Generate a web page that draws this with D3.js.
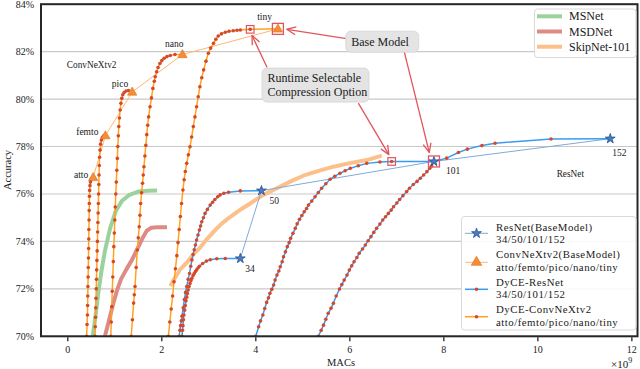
<!DOCTYPE html>
<html><head><meta charset="utf-8">
<script src="https://cdn.jsdelivr.net/npm/d3@7"></script>
<style>
body{margin:0;background:#fff}
svg{display:block}
text{font-family:"Liberation Serif","Times New Roman",serif;fill:#1a1a1a}
</style>
</head><body><svg id="c" width="640" height="369"></svg>
<script>
// ---------------- data ----------------
const xTicks = [0, 2, 4, 6, 8, 10, 12];
const yTicks = [70, 72, 74, 76, 78, 80, 82, 84];

const msnet = [[0.53,70.0],[0.6,71.0],[0.65,71.85],[0.72,72.8],[0.79,73.6],[0.9,74.55],[1.02,75.28],[1.15,75.7],[1.3,75.95],[1.5,76.1],[1.7,76.14],[1.9,76.15]];
const msdnet = [[0.79,70.0],[0.88,70.7],[0.97,71.4],[1.05,71.95],[1.13,72.4],[1.24,72.8],[1.36,73.2],[1.47,73.64],[1.58,74.1],[1.68,74.45],[1.78,74.58],[1.9,74.6],[2.11,74.6]];
const skipnet = [[2.18,72.12],[2.25,72.37],[2.31,72.55],[2.39,72.82],[2.53,73.1],[2.67,73.45],[2.82,73.75],[2.96,74.1],[3.1,74.4],[3.24,74.69],[3.4,74.95],[3.56,75.18],[3.72,75.4],[3.88,75.6],[4.16,75.96],[4.45,76.24],[4.73,76.52],[5.01,76.77],[5.3,76.95],[5.65,77.15],[6.0,77.3],[6.36,77.43],[6.68,77.62]];

const resnetNames = ["34", "50", "101", "152"];
const resnetBase = [[3.67,73.28],[4.12,76.14],[7.79,77.37],[11.54,78.33]];

const convNames = ["atto", "femto", "pico", "nano", "tiny"];
const convBase = [[0.54,76.7],[0.80,78.46],[1.37,80.3],[2.44,81.88],[4.47,82.96]];

const dyceResNet34 = [[2.43,70.0],[2.44,70.25],[2.45,70.45],[2.46,70.7],[2.47,70.9],[2.485,71.1],[2.5,71.3],[2.515,71.5],[2.53,71.65],[2.545,71.8],[2.56,71.95],[2.58,72.1],[2.6,72.23],[2.62,72.35],[2.64,72.45],[2.665,72.56],[2.69,72.65],[2.715,72.73],[2.74,72.8],[2.77,72.88],[2.8,72.95],[2.87,73.07],[2.95,73.17],[3.03,73.23],[3.17,73.27],[3.35,73.28],[3.67,73.28]];
const dyceResNet50 = [[2.37,70.0],[2.385,70.25],[2.40,70.45],[2.415,70.65],[2.43,70.85],[2.455,71.2],[2.48,71.55],[2.505,71.85],[2.53,72.1],[2.56,72.4],[2.59,72.65],[2.615,72.95],[2.64,73.22],[2.665,73.45],[2.69,73.65],[2.715,73.85],[2.74,74.06],[2.77,74.27],[2.8,74.48],[2.825,74.65],[2.85,74.83],[2.885,75.0],[2.92,75.18],[2.97,75.35],[3.03,75.53],[3.08,75.65],[3.13,75.77],[3.19,75.88],[3.24,75.96],[3.32,76.03],[3.42,76.07],[3.67,76.13],[4.12,76.14]];
const dyceResNet101 = [[4.0,70.0],[4.06,70.4],[4.1,70.65],[4.15,70.9],[4.19,71.17],[4.23,71.43],[4.27,71.62],[4.3,71.81],[4.34,71.98],[4.38,72.16],[4.41,72.37],[4.45,72.58],[4.49,72.75],[4.52,72.93],[4.56,73.14],[4.59,73.35],[4.63,73.56],[4.67,73.78],[4.71,73.95],[4.74,74.13],[4.79,74.34],[4.84,74.55],[4.88,74.74],[4.93,74.93],[4.98,75.09],[5.03,75.25],[5.08,75.39],[5.12,75.53],[5.19,75.7],[5.26,75.88],[5.33,76.06],[5.4,76.24],[5.49,76.43],[5.58,76.62],[5.68,76.75],[5.79,76.87],[5.9,76.98],[6.01,77.08],[6.18,77.19],[6.36,77.29],[6.64,77.35],[6.89,77.37],[7.79,77.37]];
const dyceResNet152 = [[5.33,70.0],[5.39,70.25],[5.44,70.47],[5.49,70.72],[5.54,70.97],[5.6,71.18],[5.65,71.39],[5.71,71.7],[5.78,71.99],[5.83,72.18],[5.88,72.37],[5.94,72.58],[5.99,72.79],[6.04,72.97],[6.09,73.14],[6.15,73.32],[6.2,73.5],[6.27,73.68],[6.33,73.85],[6.39,74.03],[6.45,74.2],[6.51,74.38],[6.57,74.55],[6.64,74.73],[6.7,74.9],[6.76,75.04],[6.82,75.18],[6.88,75.32],[6.93,75.46],[7.0,75.62],[7.06,75.77],[7.13,75.93],[7.21,76.1],[7.27,76.24],[7.35,76.4],[7.43,76.53],[7.5,76.66],[7.57,76.8],[7.64,76.94],[7.7,77.08],[7.74,77.18],[7.79,77.37],[8.06,77.51],[8.31,77.75],[8.5,77.89],[8.81,78.04],[9.09,78.14],[10.28,78.32],[11.54,78.33]];

const dyceAtto = [[0.40,70.0],[0.41,70.5],[0.418,70.9],[0.422,71.3],[0.425,71.7],[0.428,72.1],[0.432,72.5],[0.436,72.9],[0.44,73.3],[0.443,73.7],[0.446,74.1],[0.449,74.5],[0.452,74.9],[0.455,75.3],[0.458,75.6],[0.461,75.9],[0.465,76.15],[0.472,76.35],[0.482,76.5],[0.495,76.6],[0.51,76.65],[0.525,76.68],[0.54,76.7]];
const dyceFemto = [[0.58,70.0],[0.585,70.4],[0.59,70.8],[0.595,71.2],[0.6,71.6],[0.605,72.0],[0.61,72.4],[0.615,72.8],[0.62,73.2],[0.625,73.6],[0.63,74.0],[0.635,74.4],[0.64,74.8],[0.645,75.2],[0.65,75.6],[0.655,76.0],[0.66,76.4],[0.665,76.8],[0.67,77.2],[0.677,77.55],[0.686,77.85],[0.698,78.1],[0.715,78.27],[0.735,78.38],[0.76,78.44],[0.8,78.46]];
const dycePico = [[0.915,70.0],[0.925,70.6],[0.936,71.25],[0.946,71.9],[0.957,72.5],[0.968,73.15],[0.979,73.78],[0.99,74.35],[1.0,74.9],[1.01,75.45],[1.021,76.0],[1.032,76.5],[1.043,77.0],[1.054,77.5],[1.064,78.0],[1.075,78.45],[1.085,78.84],[1.098,79.2],[1.113,79.54],[1.13,79.82],[1.149,80.03],[1.17,80.18],[1.198,80.28],[1.24,80.34],[1.29,80.36],[1.37,80.3]];
const dyceNano = [[1.35,70.0],[1.375,70.7],[1.40,71.4],[1.415,71.75],[1.43,72.1],[1.455,72.9],[1.48,73.64],[1.50,74.15],[1.52,74.62],[1.535,75.1],[1.55,75.6],[1.57,76.05],[1.59,76.45],[1.605,76.8],[1.62,77.15],[1.64,77.6],[1.66,78.05],[1.68,78.5],[1.70,78.9],[1.72,79.25],[1.75,79.68],[1.78,80.05],[1.81,80.45],[1.84,80.75],[1.86,80.94],[1.89,81.15],[1.92,81.33],[1.96,81.5],[2.0,81.62],[2.05,81.72],[2.11,81.79],[2.18,81.84],[2.28,81.88],[2.44,81.88]];
const dyceTiny = [[2.14,70.0],[2.17,70.6],[2.2,71.15],[2.23,71.7],[2.26,72.3],[2.29,72.85],[2.32,73.4],[2.345,73.95],[2.37,74.5],[2.395,75.05],[2.42,75.6],[2.45,76.17],[2.475,76.6],[2.5,76.95],[2.53,77.29],[2.565,77.65],[2.6,77.99],[2.635,78.4],[2.67,78.84],[2.705,79.25],[2.74,79.68],[2.775,80.1],[2.81,80.52],[2.85,80.9],[2.89,81.23],[2.94,81.6],[2.99,81.93],[3.04,82.15],[3.1,82.35],[3.15,82.52],[3.2,82.66],[3.27,82.75],[3.35,82.82],[3.43,82.86],[3.52,82.88],[3.6,82.9],[3.67,82.91],[3.88,82.94],[4.47,82.96]];

const baselineNames = ["MSNet", "MSDNet", "SkipNet-101"];
const legendNames = [["ResNet(BaseModel)", "34/50/101/152"], ["ConvNeXtv2(BaseModel)", "atto/femto/pico/nano/tiny"], ["DyCE-ResNet", "34/50/101/152"], ["DyCE-ConvNeXtv2", "atto/femto/pico/nano/tiny"]];

// highlighted options
const baseBoxes = [[4.47,82.96],[7.79,77.37]];
const optionBoxes = [[3.88,82.94],[6.89,77.37]];

// ---------------- setup ----------------
const M = {l: 41, r: 637.5, t: 4.2, b: 336.3};
const x = d3.scaleLinear().domain([-0.57, 12.12]).range([M.l, M.r]);
const y = d3.scaleLinear().domain([70, 84]).range([M.b, M.t]);
const svg = d3.select("#c");
const line = d3.line().x(d => x(d[0])).y(d => y(d[1]));

const C = {
  msnet: "#9bd19b", msdnet: "#dd8b85", skip: "#fcc08a",
  resBase: "#82a9da", convBase: "#ffb772",
  dyRes: "#3a9bf0", dyConv: "#ffa21e", dot: "#d5482a",
  star: "#4a7cc0", starEdge: "#27508e", tri: "#f58d35", triEdge: "#e0701c",
  red: "#e2555c"
};

const defs = svg.append("defs");
defs.append("clipPath").attr("id", "clip")
  .append("rect").attr("x", M.l).attr("y", M.t - 3).attr("width", M.r - M.l).attr("height", M.b - M.t + 3);
defs.append("marker").attr("id", "arr").attr("viewBox", "-1 -6 12 12")
  .attr("refX", 10).attr("refY", 0).attr("markerWidth", 12).attr("markerHeight", 12)
  .attr("markerUnits", "userSpaceOnUse").attr("orient", "auto")
  .append("path").attr("d", "M1,-4 L10,0 L1,4").attr("fill", "none").attr("stroke", C.red).attr("stroke-width", 1.3);

// grid
svg.append("g").selectAll("line").data(yTicks).join("line")
  .attr("x1", M.l).attr("x2", M.r).attr("y1", d => y(d)).attr("y2", d => y(d))
  .attr("stroke", "#c9c9c9").attr("stroke-width", 1.1);

const plot = svg.append("g").attr("clip-path", "url(#clip)");

// baselines
[[msnet, C.msnet], [msdnet, C.msdnet], [skipnet, C.skip]].forEach(([d, c]) => {
  plot.append("path").datum(d).attr("d", line).attr("fill", "none").attr("stroke", c)
    .attr("stroke-width", 4).attr("stroke-linejoin", "round");
});

// base model connecting lines
plot.append("path").datum(resnetBase).attr("d", line).attr("fill", "none").attr("stroke", C.resBase).attr("stroke-width", 1);
plot.append("path").datum(convBase).attr("d", line).attr("fill", "none").attr("stroke", C.convBase).attr("stroke-width", 1);

// DyCE curves
const dyRes = [dyceResNet34, dyceResNet50, dyceResNet101, dyceResNet152];
const dyConv = [dyceAtto, dyceFemto, dycePico, dyceNano, dyceTiny];
dyRes.forEach(d => plot.append("path").datum(d).attr("d", line).attr("fill", "none").attr("stroke", C.dyRes).attr("stroke-width", 1.5));
dyConv.forEach(d => plot.append("path").datum(d).attr("d", line).attr("fill", "none").attr("stroke", C.dyConv).attr("stroke-width", 1.5));
[...dyRes.map(d => d.slice(0, -1)), ...dyConv.map(d => d.slice(0, -1))].forEach(d => {
  plot.append("g").selectAll("circle").data(d).join("circle")
    .attr("cx", p => x(p[0])).attr("cy", p => y(p[1])).attr("r", 1.8).attr("fill", C.dot);
});

// base markers
const star = d3.symbol(d3.symbolStar, 30);
const tri = d3.symbol(d3.symbolTriangle, 38);
svg.append("g").selectAll("path").data(resnetBase).join("path")
  .attr("d", star).attr("transform", d => `translate(${x(d[0])},${y(d[1])})`)
  .attr("fill", C.star).attr("stroke", C.starEdge).attr("stroke-width", 0.8);
svg.append("g").selectAll("path").data(convBase).join("path")
  .attr("d", tri).attr("transform", d => `translate(${x(d[0])},${y(d[1]) + 0.5})`)
  .attr("fill", C.tri).attr("stroke", C.triEdge).attr("stroke-width", 0.6);

// point labels
const convLabelOff = [[-5, 1], [-7, -1], [-4, -5], [1, -7], [-6, -9]];
svg.append("g").selectAll("text").data(convBase).join("text")
  .attr("x", (d, i) => x(d[0]) + convLabelOff[i][0]).attr("y", (d, i) => y(d[1]) + convLabelOff[i][1])
  .attr("text-anchor", "end").attr("font-size", 9.5).text((d, i) => convNames[i]);
const resLabelOff = [[5, 14], [8, 13], [12, 13], [2, 17]];
svg.append("g").selectAll("text").data(resnetBase).join("text")
  .attr("x", (d, i) => x(d[0]) + resLabelOff[i][0]).attr("y", (d, i) => y(d[1]) + resLabelOff[i][1])
  .attr("font-size", 9.5).text((d, i) => resnetNames[i]);

svg.append("text").attr("x", x(-0.02)).attr("y", y(81.31)).attr("font-size", 9.3).text("ConvNeXtv2");
svg.append("text").attr("x", x(10.4)).attr("y", y(76.7)).attr("font-size", 9.3).text("ResNet");

// annotation boxes
svg.append("g").selectAll("rect").data(baseBoxes).join("rect")
  .attr("x", d => x(d[0]) - 5.5).attr("y", d => y(d[1]) - 5.5).attr("width", 11).attr("height", 11)
  .attr("fill", "none").attr("stroke", C.red).attr("stroke-width", 1.3);
svg.append("g").selectAll("rect").data(optionBoxes).join("rect")
  .attr("x", d => x(d[0]) - 3.8).attr("y", d => y(d[1]) - 3.8).attr("width", 7.6).attr("height", 7.6)
  .attr("fill", "none").attr("stroke", C.red).attr("stroke-width", 1.2);

// annotation callouts (anchors in data units)
const callouts = [
  {c: [6.69, 82.42], w: 73, h: 21, lines: ["Base Model"]},
  {c: [5.27, 80.59], w: 107, h: 34, lines: ["Runtime Selectable", "Compression Option"]}
];
const arrows = [
  [[5.93, 82.55], [4.66, 82.94]],
  [[7.16, 81.98], [7.69, 77.75]],
  [[4.24, 81.33], [3.92, 82.68]],
  [[6.18, 79.83], [6.83, 77.66]]
];
svg.append("g").selectAll("line").data(arrows).join("line")
  .attr("x1", d => x(d[0][0])).attr("y1", d => y(d[0][1]))
  .attr("x2", d => x(d[1][0])).attr("y2", d => y(d[1][1]))
  .attr("stroke", C.red).attr("stroke-width", 1.3).attr("marker-end", "url(#arr)");
callouts.forEach(co => {
  const cx = x(co.c[0]), cy = y(co.c[1]);
  svg.append("rect").attr("x", cx - co.w / 2).attr("y", cy - co.h / 2).attr("width", co.w).attr("height", co.h)
    .attr("rx", 5).attr("fill", "#e4e4e4").attr("stroke", "#d6d6d6").attr("stroke-width", 0.8);
  const t = svg.append("text").attr("font-size", 12);
  co.lines.forEach((s, i) => {
    t.append("tspan").attr("x", cx - co.w / 2 + 5.5).attr("y", cy - (co.lines.length - 1) * 7 + i * 14 + 4).text(s);
  });
});

// frame
svg.append("rect").attr("x", M.l).attr("y", M.t).attr("width", M.r - M.l).attr("height", M.b - M.t)
  .attr("fill", "none").attr("stroke", "#262626").attr("stroke-width", 2);

// axes
const xa = svg.append("g");
xa.selectAll("line").data(xTicks).join("line")
  .attr("x1", d => x(d)).attr("x2", d => x(d)).attr("y1", M.b + 1).attr("y2", M.b + 5)
  .attr("stroke", "#222").attr("stroke-width", 1.3);
xa.selectAll("text").data(xTicks).join("text")
  .attr("x", d => x(d)).attr("y", 353).attr("text-anchor", "middle").attr("font-size", 10).text(d => d);
svg.append("g").selectAll("text").data(yTicks).join("text")
  .attr("x", 34).attr("y", d => y(d) + 3.5).attr("text-anchor", "end").attr("font-size", 10).text(d => d + "%");

svg.append("text").attr("transform", "translate(11,170) rotate(-90)").attr("text-anchor", "middle")
  .attr("font-size", 10.5).text("Accuracy");
svg.append("text").attr("x", 341).attr("y", 366).attr("text-anchor", "middle").attr("font-size", 10.5).text("MACs");
const sci = svg.append("text").attr("x", 611).attr("y", 368).attr("font-size", 11);
sci.append("tspan").text("×10");
sci.append("tspan").attr("dy", -5.5).attr("font-size", 8).text("9");

// legend top-right
const lg1 = svg.append("g");
lg1.append("rect").attr("x", 534.5).attr("y", 9).attr("width", 101.5).attr("height", 48.5).attr("rx", 3)
  .attr("fill", "#fff").attr("fill-opacity", 0.9).attr("stroke", "#d9d9d9");
const lgCols = [C.msnet, C.msdnet, C.skip];
baselineNames.forEach((n, i) => {
  const yy = 16.3 + i * 15.2;
  lg1.append("line").attr("x1", 537).attr("x2", 562).attr("y1", yy).attr("y2", yy).attr("stroke", lgCols[i]).attr("stroke-width", 4);
  lg1.append("text").attr("x", 569).attr("y", yy + 4).attr("font-size", 12).text(n);
});

// legend bottom-right
const lg2 = svg.append("g");
lg2.append("rect").attr("x", 461.5).attr("y", 216.5).attr("width", 174.5).attr("height", 113.5).attr("rx", 3)
  .attr("fill", "#fff").attr("fill-opacity", 0.9).attr("stroke", "#d9d9d9");
const lgY = [233.3, 262.3, 289.3, 316.7];
const lgLine = [[C.resBase, 1], [C.convBase, 1], [C.dyRes, 1.5], [C.dyConv, 1.5]];
legendNames.forEach((n, i) => {
  const yy = lgY[i];
  lg2.append("line").attr("x1", 465).attr("x2", 488).attr("y1", yy).attr("y2", yy)
    .attr("stroke", lgLine[i][0]).attr("stroke-width", lgLine[i][1]);
  if (i === 0) lg2.append("path").attr("d", star).attr("transform", `translate(476.5,${yy})`).attr("fill", C.star).attr("stroke", C.starEdge).attr("stroke-width", 0.8);
  else if (i === 1) lg2.append("path").attr("d", d3.symbol(d3.symbolTriangle, 48)).attr("transform", `translate(476.5,${yy})`).attr("fill", C.tri).attr("stroke", C.triEdge).attr("stroke-width", 0.6);
  else lg2.append("circle").attr("cx", 476.5).attr("cy", yy).attr("r", 1.8).attr("fill", C.dot);
  const ty = [230.7, 258.3, 285.7, 313.3][i];
  const t = lg2.append("text").attr("font-size", 10.8).attr("letter-spacing", 0.5);
  t.append("tspan").attr("x", 496).attr("y", ty).text(n[0]);
  t.append("tspan").attr("x", 496).attr("y", ty + 12.3).text(n[1]);
});
</script></body></html>
